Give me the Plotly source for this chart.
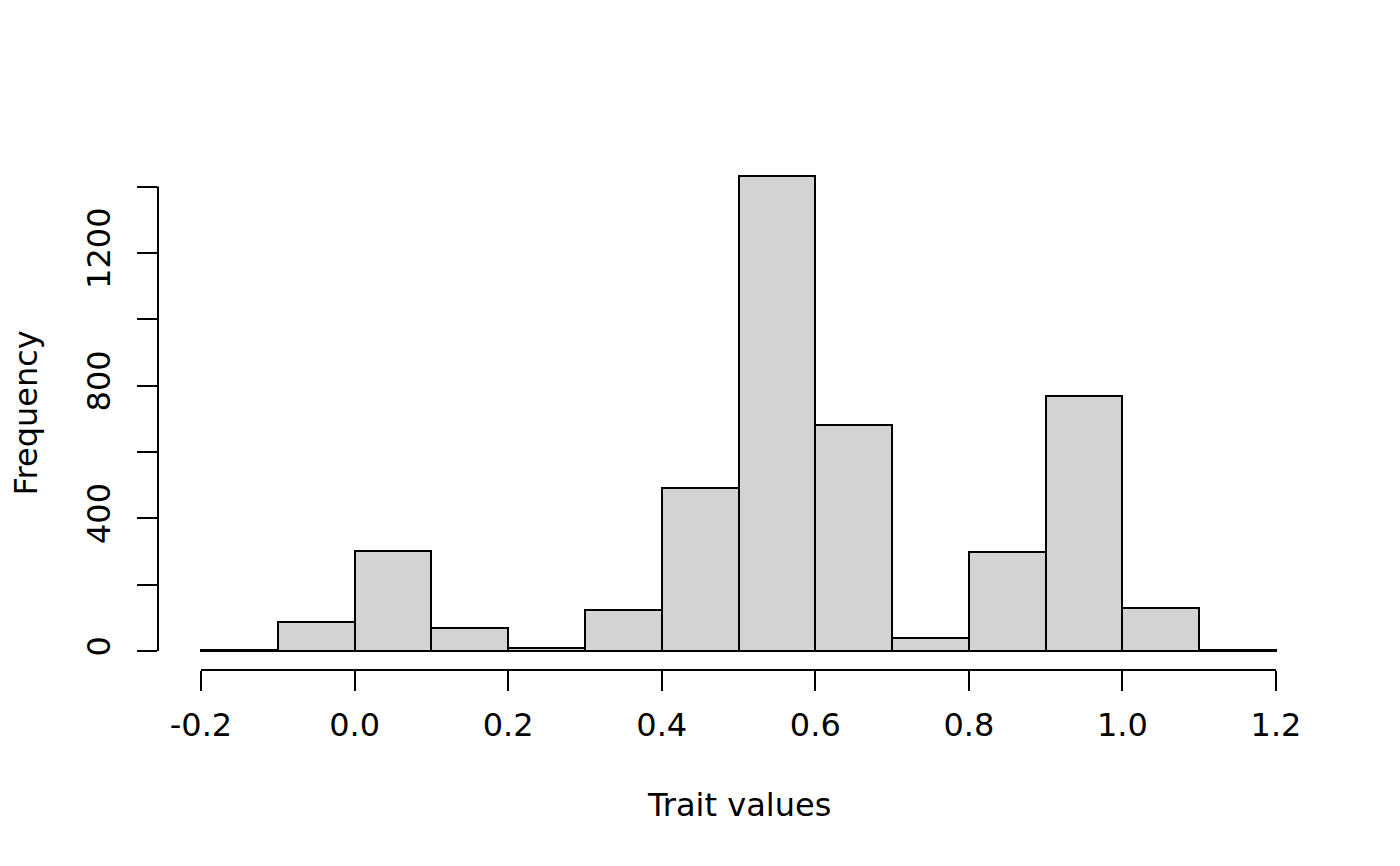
import plotly.graph_objects as go

bin_left = [-0.2, -0.1, 0.0, 0.1, 0.2, 0.3, 0.4, 0.5, 0.6, 0.7, 0.8, 0.9, 1.0, 1.1]
counts = [3, 88, 301, 70, 9, 124, 491, 1432, 681, 40, 299, 769, 130, 3]
bin_width = 0.1

x_ticks = [-0.2, 0.0, 0.2, 0.4, 0.6, 0.8, 1.0, 1.2]
x_tick_labels = ["-0.2", "0.0", "0.2", "0.4", "0.6", "0.8", "1.0", "1.2"]
y_ticks = [0, 200, 400, 600, 800, 1000, 1200, 1400]
y_tick_labels = ["0", "", "400", "", "800", "", "1200", ""]

centers = [b + bin_width / 2 for b in bin_left]
ymax = max(counts)

fig = go.Figure()
fig.add_trace(go.Bar(
    x=centers, y=counts, width=[bin_width] * len(counts),
    marker=dict(color="#D3D3D3", line=dict(color="black", width=2)),
    hoverinfo="x+y",
))

font = dict(family="DejaVu Sans", size=32, color="black")

fig.update_layout(
    width=1392, height=858,
    margin=dict(l=150, r=81, t=149, b=196),
    plot_bgcolor="white", paper_bgcolor="white",
    showlegend=False, bargap=0,
    font=font,
    xaxis=dict(range=[-0.2 - 0.04 * 1.4, 1.2 + 0.04 * 1.4], tickvals=x_ticks, ticktext=x_tick_labels,
               ticks="outside", ticklen=20, tickwidth=2, tickcolor="black", ticklabelstandoff=7,
               showgrid=False, zeroline=False, showline=False, tickfont=font),
    yaxis=dict(range=[-0.04 * ymax, 1.04 * ymax], tickvals=y_ticks, ticktext=y_tick_labels,
               ticks="outside", ticklen=20, tickwidth=2, tickcolor="black", tickangle=-90,
               ticklabelstandoff=14,
               showgrid=False, zeroline=False, showline=False, tickfont=font),
    shapes=[
        dict(type="line", xref="paper", yref="y", x0=0, x1=0, y0=0, y1=1400,
             line=dict(color="black", width=2)),
        dict(type="line", xref="x", yref="paper", x0=-0.2, x1=1.2, y0=0, y1=0,
             line=dict(color="black", width=2)),
    ],
    annotations=[
        dict(text="Trait values", xref="paper", yref="paper", x=0.5, y=0, yshift=-135,
             showarrow=False, font=font, xanchor="center", yanchor="middle"),
        dict(text="Frequency", xref="paper", yref="paper", x=0, y=0.5, xshift=-133,
             showarrow=False, font=font, textangle=-90, xanchor="center", yanchor="middle"),
    ],
)

fig.write_html("out.html")
